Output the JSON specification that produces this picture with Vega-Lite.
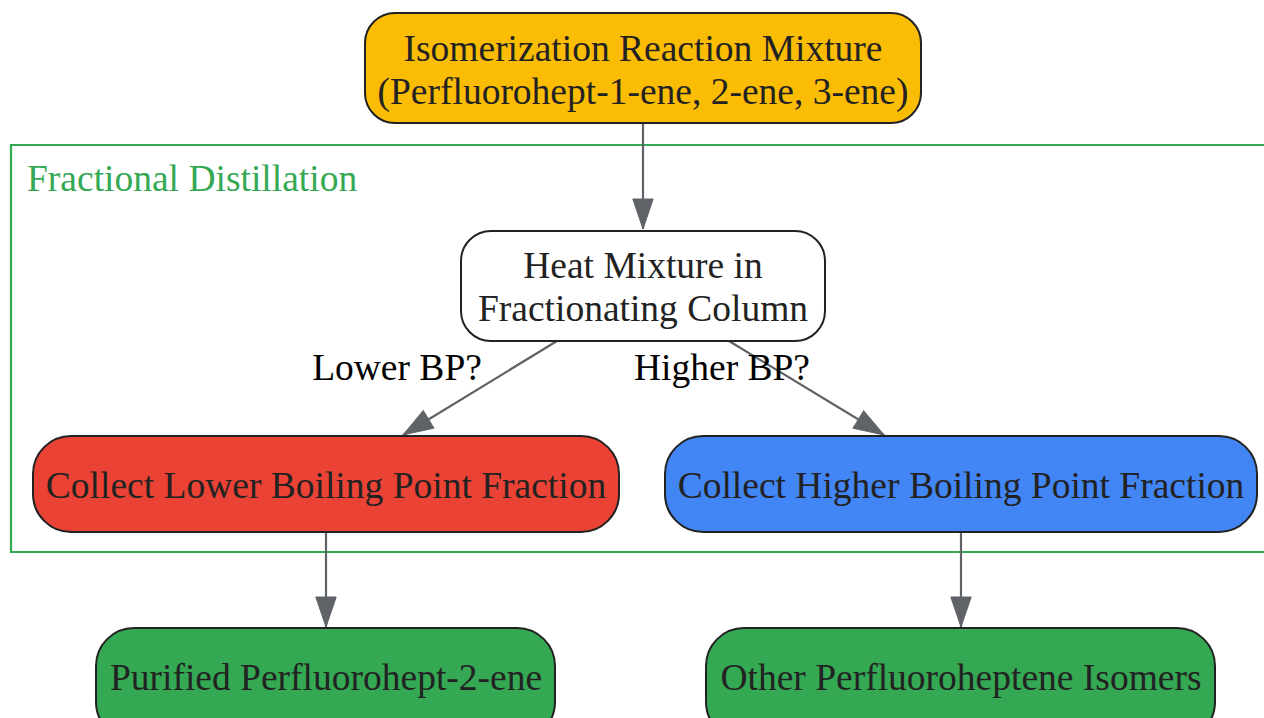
{
  "$schema": "https://vega.github.io/schema/vega-lite/v6.json",
  "width": 1264,
  "height": 718,
  "padding": 0,
  "autosize": {"type": "fit", "contains": "padding"},
  "background": "white",
  "config": {"view": {"stroke": null}, "text": {"font": "Liberation Serif"}},
  "datasets": {
    "nodes": [
      {"id": "mix", "x1": 365, "x2": 921, "y1": 13, "y2": 123, "cx": 643, "cy": 50, "kind": "start", "round": "small", "label": "Isomerization Reaction Mixture\n(Perfluorohept-1-ene, 2-ene, 3-ene)"},
      {"id": "heat", "x1": 461, "x2": 825, "y1": 231, "y2": 341, "cx": 643, "cy": 267, "kind": "step", "round": "small", "label": "Heat Mixture in\nFractionating Column"},
      {"id": "low", "x1": 33, "x2": 619, "y1": 436, "y2": 532, "cx": 326, "cy": 487, "kind": "low", "round": "big", "label": "Collect Lower Boiling Point Fraction"},
      {"id": "high", "x1": 665, "x2": 1257, "y1": 436, "y2": 532, "cx": 961, "cy": 487, "kind": "high", "round": "big", "label": "Collect Higher Boiling Point Fraction"},
      {"id": "pure", "x1": 96, "x2": 555, "y1": 628, "y2": 740, "cx": 326, "cy": 679, "kind": "product", "round": "big", "label": "Purified Perfluorohept-2-ene"},
      {"id": "other", "x1": 706, "x2": 1215, "y1": 628, "y2": 740, "cx": 961, "cy": 679, "kind": "product", "round": "big", "label": "Other Perfluoroheptene Isomers"}
    ],
    "edges": [
      {"x1": 643, "y1": 123, "x2": 643, "y2": 229, "angle": 0},
      {"x1": 557, "y1": 341, "x2": 403, "y2": 435, "angle": 58.6},
      {"x1": 729, "y1": 341, "x2": 884, "y2": 435, "angle": 301.2},
      {"x1": 326, "y1": 532, "x2": 326, "y2": 627, "angle": 0},
      {"x1": 961, "y1": 532, "x2": 961, "y2": 627, "angle": 0}
    ],
    "labels": [
      {"x": 397, "y": 369, "text": "Lower BP?"},
      {"x": 722, "y": 369, "text": "Higher BP?"}
    ],
    "cluster": [
      {"x1": 11, "x2": 1275, "y1": 145, "y2": 552, "tx": 27, "ty": 180, "title": "Fractional Distillation"}
    ]
  },
  "layer": [
    {
      "data": {"name": "cluster"},
      "mark": {"type": "rect", "fill": null, "fillOpacity": 0, "stroke": "#34a853", "strokeWidth": 2.2, "clip": true},
      "encoding": {
        "x": {"field": "x1", "type": "quantitative", "scale": {"domain": [0, 1264], "nice": false, "zero": false}, "axis": null},
        "x2": {"field": "x2"},
        "y": {"field": "y1", "type": "quantitative", "scale": {"domain": [0, 718], "nice": false, "zero": false, "reverse": true}, "axis": null},
        "y2": {"field": "y2"}
      }
    },
    {
      "data": {"name": "cluster"},
      "mark": {"type": "text", "align": "left", "baseline": "middle", "fontSize": 37.5, "color": "#34a853"},
      "encoding": {
        "x": {"field": "tx", "type": "quantitative"},
        "y": {"field": "ty", "type": "quantitative"},
        "text": {"field": "title"}
      }
    },
    {
      "data": {"name": "edges"},
      "mark": {"type": "rule", "stroke": "#5f6368", "strokeWidth": 2.2},
      "encoding": {
        "x": {"field": "x1", "type": "quantitative"},
        "y": {"field": "y1", "type": "quantitative"},
        "x2": {"field": "x2"},
        "y2": {"field": "y2"}
      }
    },
    {
      "data": {"name": "edges"},
      "mark": {"type": "point", "shape": "M0,0L-0.34,-1L0.34,-1Z", "size": 3600, "filled": true, "fill": "#5f6368", "stroke": "#5f6368", "strokeWidth": 1, "opacity": 1},
      "encoding": {
        "x": {"field": "x2", "type": "quantitative"},
        "y": {"field": "y2", "type": "quantitative"},
        "angle": {"field": "angle", "type": "quantitative", "scale": null}
      }
    },
    {
      "data": {"name": "nodes"},
      "transform": [{"filter": "datum.round === 'small'"}],
      "mark": {"type": "rect", "cornerRadius": 30, "stroke": "#222222", "strokeWidth": 2, "clip": true},
      "encoding": {
        "x": {"field": "x1", "type": "quantitative"},
        "x2": {"field": "x2"},
        "y": {"field": "y1", "type": "quantitative"},
        "y2": {"field": "y2"},
        "fill": {"field": "kind", "type": "nominal", "scale": {"domain": ["start", "step", "low", "high", "product"], "range": ["#fbbc04", "#ffffff", "#ea4335", "#4285f4", "#34a853"]}, "legend": null}
      }
    },
    {
      "data": {"name": "nodes"},
      "transform": [{"filter": "datum.round === 'big'"}],
      "mark": {"type": "rect", "cornerRadius": 38, "stroke": "#222222", "strokeWidth": 2, "clip": true},
      "encoding": {
        "x": {"field": "x1", "type": "quantitative"},
        "x2": {"field": "x2"},
        "y": {"field": "y1", "type": "quantitative"},
        "y2": {"field": "y2"},
        "fill": {"field": "kind", "type": "nominal", "legend": null}
      }
    },
    {
      "data": {"name": "nodes"},
      "mark": {"type": "text", "align": "center", "baseline": "middle", "fontSize": 37.5, "lineHeight": 43, "lineBreak": "\n", "color": "#222222"},
      "encoding": {
        "x": {"field": "cx", "type": "quantitative"},
        "y": {"field": "cy", "type": "quantitative"},
        "text": {"field": "label"}
      }
    },
    {
      "data": {"name": "labels"},
      "mark": {"type": "text", "align": "center", "baseline": "middle", "fontSize": 37.5, "color": "#000000"},
      "encoding": {
        "x": {"field": "x", "type": "quantitative"},
        "y": {"field": "y", "type": "quantitative"},
        "text": {"field": "text"}
      }
    }
  ]
}
